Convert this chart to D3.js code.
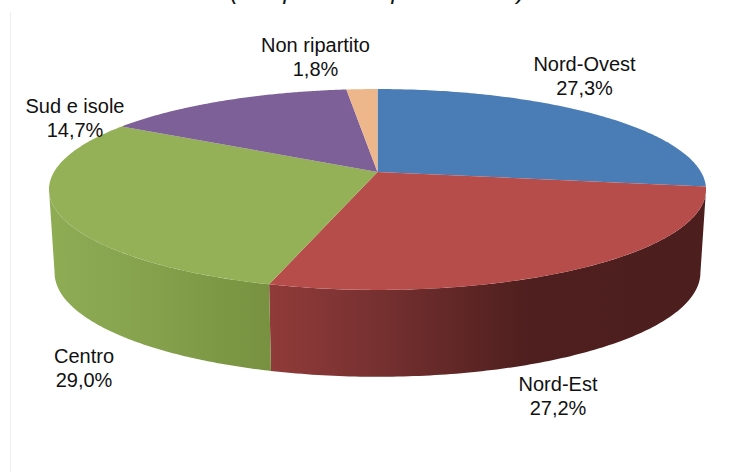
<!DOCTYPE html>
<html>
<head>
<meta charset="utf-8">
<script src="https://cdn.jsdelivr.net/npm/d3@7"></script>
<style>
    body { margin: 0; background: #fff; }
    svg { display: block; }
    text { font-family: "Liberation Sans", Arial, sans-serif; fill: #111; }
</style>
</head>
<body>
<svg id="chart"></svg>
<script>
const categories = ["Nord-Ovest", "Nord-Est", "Centro", "Sud e isole", "Non ripartito"];
const shares = [27.3, 27.2, 29.0, 14.7, 1.8];
const topColors = ["#4a7cb6", "#b74d4a", "#94b157", "#7e6099", "#eeb78b"];
const chartTitle = "(composizione percentuale)";

const width = 743, height = 472;

// the disc is a circle seen in perspective, far edge shorter than the near edge
const tilt = 0.174;
const topFace = {cx: 377.5, cy: 172, rx: 323.5, ry: 97.4};
const bottomFace = {cx: 377.5, cy: 254.5, rx: 318, ry: 101};

// label centres, one per category
const labelX = [584.5, 558, 84, 75, 315.5];
const labelY = [71, 391, 363, 113, 52];
const lineGap = 23.5;

const svg = d3.select("#chart").attr("width", width).attr("height", height);
const defs = svg.append("defs");

const project = face => {
    const x = d3.scaleLinear().domain([-1, 1]).range([face.cx - face.rx, face.cx + face.rx]);
    const y = d3.scaleLinear().domain([-1, 1]).range([face.cy + face.ry, face.cy - face.ry]);
    return a => {
        const u = Math.sin(a), v = Math.cos(a), w = 1 + tilt * v;
        return [x(u / w), y(v / w)];
    };
};
const topPoint = project(topFace);
const bottomPoint = project(bottomFace);

const pie = d3.pie().sort(null).value(d => d);
const arcs = pie(shares);
const line = d3.line();

const sweep = (a0, a1) => d3.range(0, 121).map(i => a0 + (a1 - a0) * i / 120);

// side wall shading, dark towards the right
const addShade = (id, x0, x1, stops) => {
    const g = defs.append("linearGradient").attr("id", id)
        .attr("gradientUnits", "userSpaceOnUse")
        .attr("x1", x0).attr("x2", x1).attr("y1", 0).attr("y2", 0);
    stops.forEach(s => g.append("stop").attr("offset", s[0]).attr("stop-color", s[1]));
};
addShade("wall1", 269, 700, [[0, "#903b39"], [0.24, "#783131"], [0.6, "#4e1f1e"], [1, "#4c1e1d"]]);
addShade("wall2", 54, 271, [[0, "#8dac54"], [0.5, "#84a04b"], [1, "#779140"]]);

const frontStart = Math.PI - Math.acos(tilt);
const frontEnd = Math.PI + Math.acos(tilt);

svg.append("rect").attr("x", 10).attr("y", 12).attr("width", 1).attr("height", height - 12).attr("fill", "#eeeeee");

svg.append("text")
    .attr("x", 377.5).attr("y", -1.5)
    .attr("text-anchor", "middle")
    .attr("font-size", 24)
    .attr("font-style", "italic")
    .text(chartTitle);

// walls
svg.selectAll(".wall")
    .data(arcs.map((d, i) => ({...d, index: i})).filter(d => d.endAngle > frontStart && d.startAngle < frontEnd))
    .join("path")
    .attr("class", "wall")
    .attr("fill", d => `url(#wall${d.index})`)
    .attr("d", d => {
        const a = sweep(Math.max(d.startAngle, frontStart), Math.min(d.endAngle, frontEnd));
        return line(a.map(topPoint).concat(a.slice().reverse().map(bottomPoint))) + "Z";
    });

// top of the disc
svg.selectAll(".slice")
    .data(arcs)
    .join("path")
    .attr("class", "slice")
    .attr("fill", (d, i) => topColors[i])
    .attr("d", d => line([[topFace.cx, topFace.cy]].concat(sweep(d.startAngle, d.endAngle).map(topPoint))) + "Z");

const labels = svg.selectAll(".label")
    .data(categories)
    .join("text")
    .attr("class", "label")
    .attr("text-anchor", "middle")
    .attr("font-size", 20);
labels.append("tspan").attr("x", (d, i) => labelX[i]).attr("y", (d, i) => labelY[i]).text(d => d);
labels.append("tspan").attr("x", (d, i) => labelX[i]).attr("y", (d, i) => labelY[i] + lineGap)
    .text((d, i) => shares[i].toFixed(1).replace(".", ",") + "%");
</script>
</body>
</html>
